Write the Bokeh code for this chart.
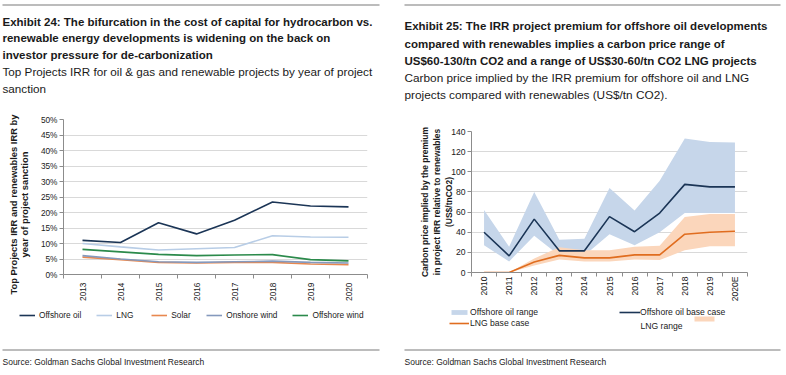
from math import pi
from bokeh.plotting import figure
from bokeh.models import (FixedTicker, Label, Legend, LegendItem, BoxAnnotation,
                          Range1d, PrintfTickFormatter)
from bokeh.layouts import row, column
from bokeh.embed import file_html
from bokeh.resources import INLINE

NAN = float("nan")

# ---------------- data: Exhibit 24 ----------------
years_l = ["2013", "2014", "2015", "2016", "2017", "2018", "2019", "2020"]
offshore_oil = [11.0, 10.3, 16.7, 13.1, 17.5, 23.4, 22.1, 21.8]
lng = [10.0, 8.9, 7.9, 8.3, 8.7, 12.5, 12.1, 12.0]
solar = [5.6, 4.8, 3.9, 3.7, 3.9, 3.9, 3.4, 3.2]
onshore_wind = [6.1, 5.0, 4.1, 3.9, 4.1, 4.3, 3.9, 3.7]
offshore_wind = [8.1, 7.3, 6.5, 6.1, 6.3, 6.4, 4.8, 4.4]
y_ticks_l = [0, 5, 10, 15, 20, 25, 30, 35, 40, 45, 50]

# ---------------- data: Exhibit 25 ----------------
years_r = ["2010", "2011", "2012", "2013", "2014", "2015", "2016", "2017", "2018", "2019", "2020E"]
oil_base = [40, 16.5, 53, 21.5, 21.5, 55.5, 40.5, 59, 87.5, 85, 85]
oil_low = [27, 11, 36.5, 17, 17, 38, 27, 40, 59, 59, 59]
oil_high = [62, 25.5, 80, 32.5, 33.5, 84, 61.5, 91, 133, 129.5, 129]
lng_base = [0, 0, 10.5, 17, 14.5, 14.5, 17.5, 17.5, 38, 40, 41]
lng_low = [0, 0, 7, 13, 11, 11, 13, 12.5, 22, 26, 26]
lng_high = [0, 0, 14, 25, 22, 22, 25.5, 26.5, 55, 58, 58]
y_ticks_r = [0, 20, 40, 60, 80, 100, 120, 140]

SANS = "Liberation Sans"
TXT = "#1a1a1a"
AXC = "#8c8c8c"
GRID = "#d9d9d9"
RULE = "#7a7a7a"

C_OIL = "#1b3556"
C_LNG = "#b8cde6"
C_SOLAR = "#e8884f"
C_ONW = "#8599bd"
C_OFW = "#2b8a4b"
C_OILR = "#c6d6ea"
C_LNGB = "#e06d1f"
C_LNGR = "#fbd6bb"


def blank(w, h):
    p = figure(width=w, height=h, output_backend="svg", toolbar_location=None,
               x_range=Range1d(0, w), y_range=Range1d(h, 0),
               x_axis_type=None, y_axis_type=None,
               min_border_left=0, min_border_right=0, min_border_top=0,
               min_border_bottom=0, frame_align=False)
    p.outline_line_color = None
    return p


def label(p, x, y, text, size, bold=False, angle=0, align="left"):
    p.add_layout(Label(x=x, y=y, text=text, text_font=SANS, text_font_size=size,
                       text_font_style="bold" if bold else "normal",
                       text_color=TXT, text_baseline="middle", text_align=align,
                       angle=angle))


def box(p, left, right, top, bottom, color):
    p.add_layout(BoxAnnotation(left=left, right=right, top=top, bottom=bottom,
                               fill_color=color, fill_alpha=1, line_color=None))


def style_axes(p, xs, labels, yticks, fs):
    p.outline_line_color = None
    p.xgrid.grid_line_color = None
    p.ygrid.ticker = FixedTicker(ticks=yticks)
    p.ygrid.grid_line_color = GRID
    p.yaxis.ticker = FixedTicker(ticks=yticks)
    p.yaxis.axis_line_color = AXC
    p.yaxis.major_tick_line_color = AXC
    p.yaxis.major_tick_out = 4
    p.yaxis.major_tick_in = 0
    p.yaxis.minor_tick_line_color = None
    p.yaxis.major_label_standoff = 2
    p.xaxis.ticker = FixedTicker(ticks=xs, minor_ticks=list(range(len(labels) + 1)))
    p.xaxis.major_label_overrides = {x: lab for x, lab in zip(xs, labels)}
    p.xaxis.major_tick_line_color = None
    p.xaxis.major_tick_out = 2
    p.xaxis.minor_tick_line_color = AXC
    p.xaxis.minor_tick_out = 4
    p.xaxis.minor_tick_in = 0
    p.xaxis.axis_line_color = AXC
    p.xaxis.major_label_orientation = pi / 2
    p.xaxis.major_label_standoff = 4
    for ax in (p.xaxis, p.yaxis):
        ax.major_label_text_font = SANS
        ax.major_label_text_font_size = fs
        ax.major_label_text_color = TXT


# ================= left column (Exhibit 24) =================
WL = 393
hl = blank(WL, 111)
box(hl, 2, 379, 4, 5, RULE)
for yc, txt, b in [(21, "Exhibit 24: The bifurcation in the cost of capital for hydrocarbon vs.", True),
                   (37.5, "renewable energy developments is widening on the back on", True),
                   (54.5, "investor pressure for de-carbonization", True),
                   (71, "Top Projects IRR for oil & gas and renewable projects by year of project", False),
                   (87.5, "sanction", False)]:
    label(hl, 2, yc, txt, "11.5px" if b else "11.7px", bold=b)

YL_W = 36
yl = blank(YL_W, 193)
label(yl, 13, 93, "Top Projects IRR and renewables IRR by", "9.4px", bold=True,
      angle=pi / 2, align="center")
label(yl, 24, 93, "year of project sanction", "9.4px", bold=True,
      angle=pi / 2, align="center")

xl = [i + 0.5 for i in range(len(years_l))]
pl = figure(frame_width=304, frame_height=155, output_backend="svg", toolbar_location=None,
            x_range=Range1d(0, len(years_l)), y_range=Range1d(0, 50),
            min_border_left=27, min_border_right=26, min_border_top=8,
            min_border_bottom=30, frame_align=False)
style_axes(pl, xl, years_l, y_ticks_l, "8.3px")
pl.yaxis.formatter = PrintfTickFormatter(format="%d%%")

series_l = [("Offshore oil", offshore_oil, C_OIL),
            ("LNG", lng, C_LNG),
            ("Solar", solar, C_SOLAR),
            ("Onshore wind", onshore_wind, C_ONW),
            ("Offshore wind", offshore_wind, C_OFW)]
for k in [2, 3, 4, 1, 0]:
    name, ys, col = series_l[k]
    pl.line(xl, ys, line_color=col, line_width=1.6)

fl = blank(WL, 69)
leg_items = []
for name, ys, col in series_l:
    r = fl.line(x=[NAN], y=[NAN], line_color=col, line_width=1.6)
    leg_items.append(LegendItem(label=name, renderers=[r]))
fl.add_layout(Legend(items=leg_items, orientation="horizontal", location=(19, 53),
                     padding=0, spacing=15, margin=0,
                     glyph_width=16, glyph_height=10, label_height=10, label_standoff=4,
                     label_text_font=SANS, label_text_font_size="8.3px",
                     label_text_color=TXT, border_line_color=None,
                     background_fill_alpha=0), "center")
box(fl, 2, 379, 45, 46, RULE)
label(fl, 2, 57, "Source: Goldman Sachs Global Investment Research", "8.5px")

# ================= right column (Exhibit 25) =================
WR = 391
hr = blank(WR, 111)
box(hr, 11, 387, 4, 5, RULE)
for yc, txt, b in [(25.5, "Exhibit 25: The IRR project premium for offshore oil developments", True),
                   (43, "compared with renewables implies a carbon price range of", True),
                   (60.5, "US$60-130/tn CO2 and a range of US$30-60/tn CO2 LNG projects", True),
                   (77, "Carbon price implied by the IRR premium for offshore oil and LNG", False),
                   (94, "projects compared with renewables (US$/tn CO2).", False)]:
    label(hr, 11, yc, txt, "11.5px" if b else "11.8px", bold=b)

xr = [i + 0.5 for i in range(len(years_r))]
pr = figure(frame_width=276, frame_height=141, output_backend="svg", toolbar_location=None,
            x_range=Range1d(0, len(years_r)), y_range=Range1d(0, 140),
            min_border_left=78, min_border_right=37, min_border_top=20,
            min_border_bottom=33, frame_align=False)
style_axes(pr, xr, years_r, y_ticks_r, "8.6px")
pr.xaxis.major_label_standoff = 0
pr.yaxis.axis_label = ("Carbon price implied by the premium\n"
                       "in project IRR relative to renewables\n(US$/tnCO2)")
pr.yaxis.axis_label_text_font = SANS
pr.yaxis.axis_label_text_font_style = "bold"
pr.yaxis.axis_label_text_font_size = "8.5px"
pr.yaxis.axis_label_text_color = TXT
pr.yaxis.axis_label_text_line_height = 1.2
pr.yaxis.axis_label_standoff = -6

pr.varea(x=xr, y1=oil_low, y2=oil_high, fill_color=C_OILR)
pr.varea(x=xr, y1=lng_low, y2=lng_high, fill_color=C_LNGR)
pr.line(xr, oil_base, line_color=C_OIL, line_width=1.6)
pr.line(xr, lng_base, line_color=C_LNGB, line_width=1.6)

fr = blank(WR, 68)
d_oilr = fr.varea(x=[NAN], y1=[NAN], y2=[NAN], fill_color=C_OILR)
d_oil = fr.line(x=[NAN], y=[NAN], line_color=C_OIL, line_width=1.6)
d_lng = fr.line(x=[NAN], y=[NAN], line_color=C_LNGB, line_width=1.6)


def one_legend(p, name, rend, loc, gw, standoff):
    p.add_layout(Legend(items=[LegendItem(label=name, renderers=[rend])],
                        location=loc, padding=0, margin=0, glyph_width=gw,
                        glyph_height=6, label_height=6, label_standoff=standoff,
                        label_text_font=SANS, label_text_font_size="8.6px",
                        label_text_color=TXT, border_line_color=None,
                        background_fill_alpha=0), "center")


one_legend(fr, "Offshore oil range", d_oilr, (56, 56), 20, 1)
one_legend(fr, "Offshore oil base case", d_oil, (226, 56), 21, 0)
one_legend(fr, "LNG base case", d_lng, (56, 45), 20, 1)
label(fr, 247, 20, "LNG range", "8.6px")
box(fr, 301, 321, 11, 16, C_LNGR)
box(fr, 11, 387, 44, 45, RULE)
label(fr, 11, 56, "Source: Goldman Sachs Global Investment Research", "8.5px")

left = column(hl, row(yl, pl, spacing=0), fl, spacing=0)
right = column(hr, pr, fr, spacing=0)
layout = row(left, right, spacing=0)
open("out.html", "w").write(file_html(layout, INLINE))
